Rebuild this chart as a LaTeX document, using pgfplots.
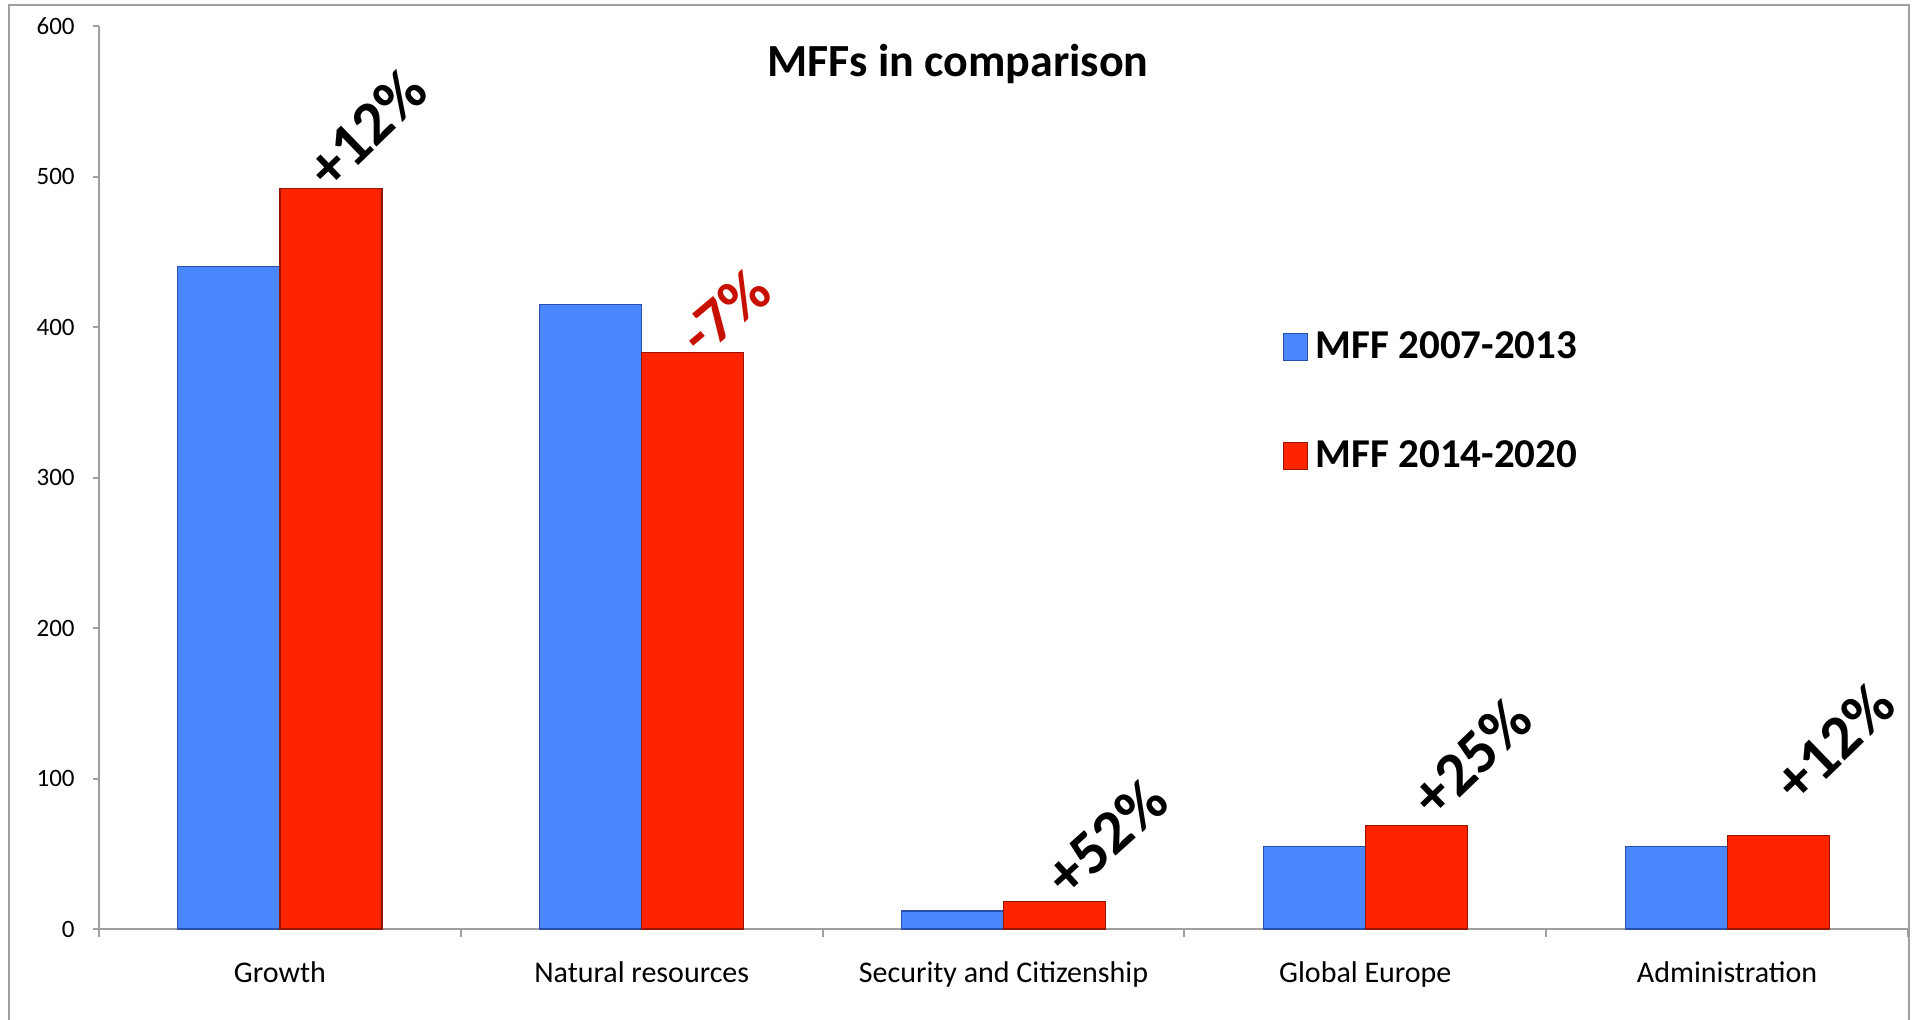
\documentclass[border=0pt]{standalone}
\usepackage{pgfplots}
\pgfplotsset{compat=1.18}
\usepackage{fontspec}
\setmainfont{Carlito}
\definecolor{barblue}{RGB}{74,135,255}
\definecolor{barred}{RGB}{255,36,0}
\definecolor{edgeblue}{RGB}{40,80,170}
\definecolor{edgered}{RGB}{150,20,0}
\definecolor{axgray}{RGB}{160,160,160}
\definecolor{annred}{RGB}{200,16,0}
\pgfplotsset{/pgfplots/ybar legend/.style={/pgfplots/legend image code/.code={\draw[##1,line width=0.6pt] (0pt,-6.75pt) rectangle (12pt,6.75pt);}}}
\begin{document}
\begin{tikzpicture}
\useasboundingbox (0,0) rectangle (956pt,-509.5pt);
\draw[axgray, line width=1.2pt] (4.5pt,-510pt) -- (4.5pt,-2.5pt) -- (954.5pt,-2.5pt) -- (954.5pt,-510pt);
\node[anchor=base, font=\bfseries\fontsize{23}{27}\selectfont] at (479pt,-38pt) {MFFs in comparison};
\begin{axis}[
  at={(49.5pt,-464.5pt)}, anchor=south west,
  scale only axis, width=904.5pt, height=451.5pt,
  xmin=-0.5, xmax=4.5, ymin=0, ymax=600,
  axis lines*=left,
  axis line style={axgray, line width=1pt},
  clip=false,
  ybar=0pt, bar width=51pt,
  xtick={0,1,2,3,4},
  xticklabels={Growth, Natural resources, Security and Citizenship, Global Europe, Administration},
  minor xtick={-0.5,0.5,1.5,2.5,3.5,4.5},
  tick style={axgray, line width=1pt},
  major x tick style={draw=none},
  ytick={0,100,200,300,400,500,600},
  tick align=outside,
  major tick length=3pt, minor tick length=4pt,
  /pgf/number format/assume math mode=true,
  yticklabel style={font=\fontsize{12.5}{15}\selectfont, inner xsep=0pt, xshift=-9pt},
  xticklabel style={font=\fontsize{15}{18}\selectfont, yshift=-10pt},
  legend style={at={(0.654,0.666)}, anchor=north west, draw=none, fill=none,
    font=\bfseries\fontsize{20.5}{24}\selectfont, row sep=35.5pt, column sep=2pt, inner sep=0pt},
  legend cell align=left,
]
\addplot[fill=barblue, draw=edgeblue, line width=0.6pt] coordinates {(0,440) (1,415) (2,12) (3,55) (4,55)};
\addplot[fill=barred, draw=edgered, line width=0.6pt] coordinates {(0,492) (1,383) (2,18.5) (3,69) (4,62)};
\legend{MFF 2007-2013, MFF 2014-2020}
\node[anchor=west, rotate=44, font=\bfseries\fontsize{31}{36}\selectfont, inner sep=0pt] at (axis cs:0.1,499.6) {+12\%};
\node[anchor=west, rotate=40, font=\bfseries\fontsize{31}{36}\selectfont, inner sep=0pt, text=annred] at (axis cs:1.127,389.5) {-7\%};
\node[anchor=west, rotate=42, font=\bfseries\fontsize{31}{36}\selectfont, inner sep=0pt] at (axis cs:2.14,30) {+52\%};
\node[anchor=west, rotate=44, font=\bfseries\fontsize{31}{36}\selectfont, inner sep=0pt] at (axis cs:3.154,81.8) {+25\%};
\node[anchor=west, rotate=44, font=\bfseries\fontsize{31}{36}\selectfont, inner sep=0pt] at (axis cs:4.157,91.8) {+12\%};
\end{axis}
\end{tikzpicture}
\end{document}
